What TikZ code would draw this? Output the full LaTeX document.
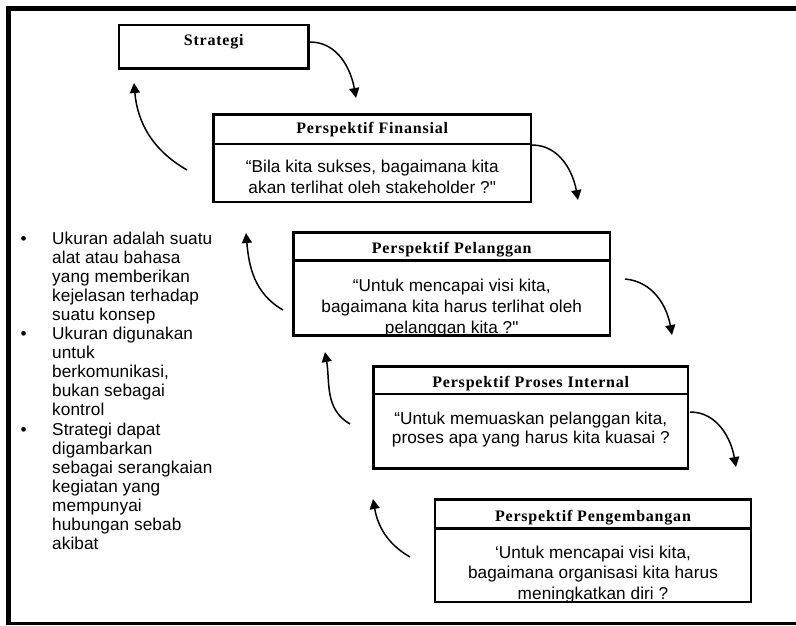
\documentclass[tikz,border=0pt]{standalone}
\usepackage{fontspec}
\setmainfont{Liberation Sans}
\newfontfamily\titlefont{Liberation Serif}[LetterSpace=5]
\newfontfamily\bodyfont{Liberation Sans}[LetterSpace=0.5]
\usetikzlibrary{arrows.meta}
\tikzset{
  panel/.style={draw, line width=2.5pt, inner sep=0pt, outer sep=0pt},
  ttl/.style={font=\titlefont\bfseries\fontsize{16}{18}\selectfont, inner sep=0pt, anchor=base},
  body/.style={font=\bodyfont\fontsize{17.2}{#1}\selectfont, inner sep=0pt, anchor=base},
  listtxt/.style={font=\bodyfont\fontsize{17.2}{19.1}\selectfont, inner sep=0pt, anchor=base west},
  divider/.style={line width=2.5pt},
  flow/.style={line width=1.5pt, -{Triangle[length=10pt,width=10pt]}},
  framepart/.style={line width=#1},
}
\begin{document}
\begin{tikzpicture}[x=1pt,y=1pt]
\useasboundingbox (0,0) rectangle (796,-625);
% outer frame (right side lies beyond the picture)
\draw[framepart=4.5pt] (8.5,-624.5) -- (8.5,-8.5) -- (800,-8.5);
\draw[framepart=3pt] (8.5,-623) -- (800,-623);

% Strategi
\node[panel, minimum width=189.5pt, minimum height=43.5pt] (str) at (213.75,-46.75) {};
\node[ttl] (strT) at (213.75,-45.5) {Strategi};

% Perspektif Finansial
\node[panel, minimum width=317.5pt, minimum height=87.5pt] (fin) at (372.25,-158.25) {};
\coordinate (finD) at (0,-144);
\draw[divider] (fin.west |- finD) -- (fin.east |- finD);
\node[ttl] (finT) at (372.25,-133) {Perspektif Finansial};
\begin{scope}
\clip (fin.south west) rectangle (fin.north east);
\node[body=21] (finB) at (372.25,-172) {\begin{tabular}[t]{@{}c@{}}“Bila kita sukses, bagaimana kita\\akan terlihat oleh stakeholder ?"\end{tabular}};
\end{scope}

% Perspektif Pelanggan
\node[panel, minimum width=316.5pt, minimum height=103pt] (pel) at (451.75,-284) {};
\coordinate (pelD) at (0,-260.5);
\draw[divider] (pel.west |- pelD) -- (pel.east |- pelD);
\node[ttl] (pelT) at (451.75,-253) {Perspektif Pelanggan};
\begin{scope}
\clip (pel.south west) rectangle (pel.north east);
\node[body=21] (pelB) at (451.75,-291) {\begin{tabular}[t]{@{}c@{}}“Untuk mencapai visi kita,\\bagaimana kita harus terlihat oleh\\pelanggan kita ?"\end{tabular}};
\end{scope}

% Perspektif Proses Internal
\node[panel, minimum width=314.5pt, minimum height=102pt] (pro) at (530.75,-417.5) {};
\coordinate (proD) at (0,-394);
\draw[divider] (pro.west |- proD) -- (pro.east |- proD);
\node[ttl] (proT) at (530.75,-387.5) {Perspektif Proses Internal};
\begin{scope}
\clip (pro.south west) rectangle (pro.north east);
\node[body=19] (proB) at (530.75,-424) {\begin{tabular}[t]{@{}c@{}}“Untuk memuaskan pelanggan kita,\\proses apa yang harus kita kuasai ?\end{tabular}};
\end{scope}

% Perspektif Pengembangan
\node[panel, minimum width=316pt, minimum height=102.5pt] (peng) at (593,-550.75) {};
\coordinate (pengD) at (0,-528.5);
\draw[divider] (peng.west |- pengD) -- (peng.east |- pengD);
\node[ttl] (pengT) at (593,-521) {Perspektif Pengembangan};
\begin{scope}
\clip (peng.south west) rectangle (peng.north east);
\node[body=20.5] (pengB) at (593,-558) {\begin{tabular}[t]{@{}c@{}}‘Untuk mencapai visi kita,\\bagaimana organisasi kita harus\\meningkatkan diri ?\end{tabular}};
\end{scope}

% bullet list
\node[listtxt] (list) at (20.5,-244) {\begin{tabular}[t]{@{}p{31.5pt}@{}l@{}}
\textbullet & Ukuran adalah suatu\\
 & alat atau bahasa\\
 & yang memberikan\\
 & kejelasan terhadap\\
 & suatu konsep\\
\textbullet & Ukuran digunakan\\
 & untuk\\
 & berkomunikasi,\\
 & bukan sebagai\\
 & kontrol\\
\textbullet & Strategi dapat\\
 & digambarkan\\
 & sebagai serangkaian\\
 & kegiatan yang\\
 & mempunyai\\
 & hubungan sebab\\
 & akibat
\end{tabular}};

% arrow end points
\coordinate (a1s) at (310,-42);  \coordinate (a1e) at (356,-98);
\coordinate (a2s) at (532,-145); \coordinate (a2e) at (578,-200);
\coordinate (a3s) at (625,-279); \coordinate (a3e) at (672,-335);
\coordinate (a4s) at (690,-412); \coordinate (a4e) at (736,-467);
\coordinate (b1s) at (187,-170); \coordinate (b1e) at (134,-83);
\coordinate (b2s) at (283,-310); \coordinate (b2e) at (246,-233);
\coordinate (b3s) at (350,-424); \coordinate (b3e) at (325,-352);
\coordinate (b4s) at (410,-557); \coordinate (b4e) at (373,-499);

\draw[flow] (a1s) to[out=0,in=100] (a1e);
\draw[flow] (a2s) to[out=0,in=100] (a2e);
\draw[flow] (a3s) to[out=-5,in=100] (a3e);
\draw[flow] (a4s) to[out=0,in=100] (a4e);
\draw[flow] (b1s) to[out=150,in=-85] (b1e);
\draw[flow] (b2s) to[out=150,in=-85] (b2e);
\draw[flow] (b3s) to[out=150,in=-80] (b3e);
\draw[flow] (b4s) to[out=150,in=-80] (b4e);
\end{tikzpicture}
\end{document}
